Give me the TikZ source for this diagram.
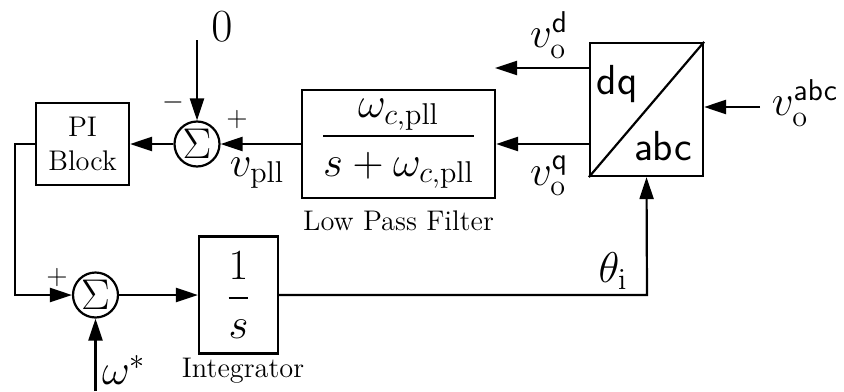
\RequirePackage{fix-cm}
\documentclass[tikz,border=0pt]{standalone}
\usepackage{amsmath}
\usetikzlibrary{arrows.meta}
\newcommand\txtsz{\fontsize{14.2}{17}\selectfont}
\newcommand\mthsz{\fontsize{21.5}{25}\selectfont}
\newcommand\zersz{\fontsize{23}{27}\selectfont}
\newcommand\sgnsz{\fontsize{14}{17}\selectfont}
\newcommand\sfsz{\fontsize{21}{25}\selectfont\sffamily}
\tikzset{
  wire/.style={line width=1.1pt},
  arr/.style={wire, -{Triangle[length=11pt,width=7pt]}},
  blk/.style={draw, line width=1.1pt, inner sep=0pt, align=center},
  sumnode/.style={draw, circle, line width=1.1pt, minimum size=22.5pt, inner sep=0pt, font=\mthsz},
  lbl/.style={inner sep=0pt, font=\mthsz},
  txt/.style={inner sep=0pt, font=\txtsz, align=center},
  sgn/.style={inner sep=0pt, font=\sgnsz},
}
\begin{document}
\begin{tikzpicture}[x=0.5pt, y=-0.5pt]
\useasboundingbox (0,0) rectangle (844,391);
% blocks
\node[blk, txt, minimum width=46.5pt, minimum height=41pt] (pi) at (82.5,144) {PI\\Block};
\node[sumnode] (s1) at (197,144) {$\Sigma$};
\node[blk, font=\mthsz, minimum width=96.5pt, minimum height=54pt] (lpf) at (398.5,144)
  {$\dfrac{\omega_{c,\mathrm{pll}}}{s+\omega_{c,\mathrm{pll}}}$};
\node[blk, minimum width=56.5pt, minimum height=66.5pt] (dq) at (646.5,109.5) {};
\node[blk, font=\mthsz, minimum width=39.5pt, minimum height=58.5pt] (int) at (238.5,295) {$\dfrac{1}{s}$};
\node[sumnode] (s2) at (95.5,295) {$\Sigma$};
% dq box contents
\draw[wire] (dq.south west) -- (dq.north east);
\node[inner sep=0pt, font=\sfsz] (tdq) at (617,84) {dq};
\node[inner sep=0pt, font=\sfsz] (tabc) at (663,146) {abc};
% captions
\node[txt] (clpf) at (398.5,221) {Low Pass Filter};
\node[txt] (cint) at (243,371) {Integrator};
% coordinates
\coordinate (zin) at (197,40);
\coordinate (win) at (95.5,391);
\coordinate (vin) at (760,107);
\coordinate (vd) at (495,68);
\coordinate (lc) at (15,295);
\coordinate (th) at (647,295);
% connectors
\draw[arr] (zin) -- (s1.north);
\draw[arr] (s1.west) -- (pi.east);
\draw[arr] (lpf.west) -- (s1.east);
\draw[arr] (dq.west |- lpf.east) -- (lpf.east);
\draw[arr] (dq.west |- vd) -- (vd);
\draw[arr] (vin) -- (dq.east |- vin);
\draw[arr] (pi.west) -| (lc) -- (s2.west);
\draw[arr] (win) -- (s2.south);
\draw[arr] (s2.east) -- (int.west);
\draw[arr] (int.east) -- (th) -- (dq.south);
% labels
\node[inner sep=0pt, font=\zersz] (l0) at (222,27) {$0$};
\node[sgn] (m1) at (173,102) {$-$};
\node[sgn] (p1) at (237,119) {$+$};
\node[sgn] (p2) at (57,277) {$+$};
\node[lbl] (lvpll) at (257,173) {$v_{\mathrm{pll}}$};
\node[lbl] (lvd) at (549,35) {$v_{\mathrm{o}}^{\mathsf{d}}$};
\node[lbl] (lvq) at (549,176) {$v_{\mathrm{o}}^{\mathsf{q}}$};
\node[lbl] (lvabc) at (805,103) {$v_{\mathrm{o}}^{\mathsf{abc}}$};
\node[lbl] (lth) at (613,271) {$\theta_{\mathrm{i}}$};
\node[lbl] (lw) at (124,370) {$\omega^{*}$};
\end{tikzpicture}
\end{document}
